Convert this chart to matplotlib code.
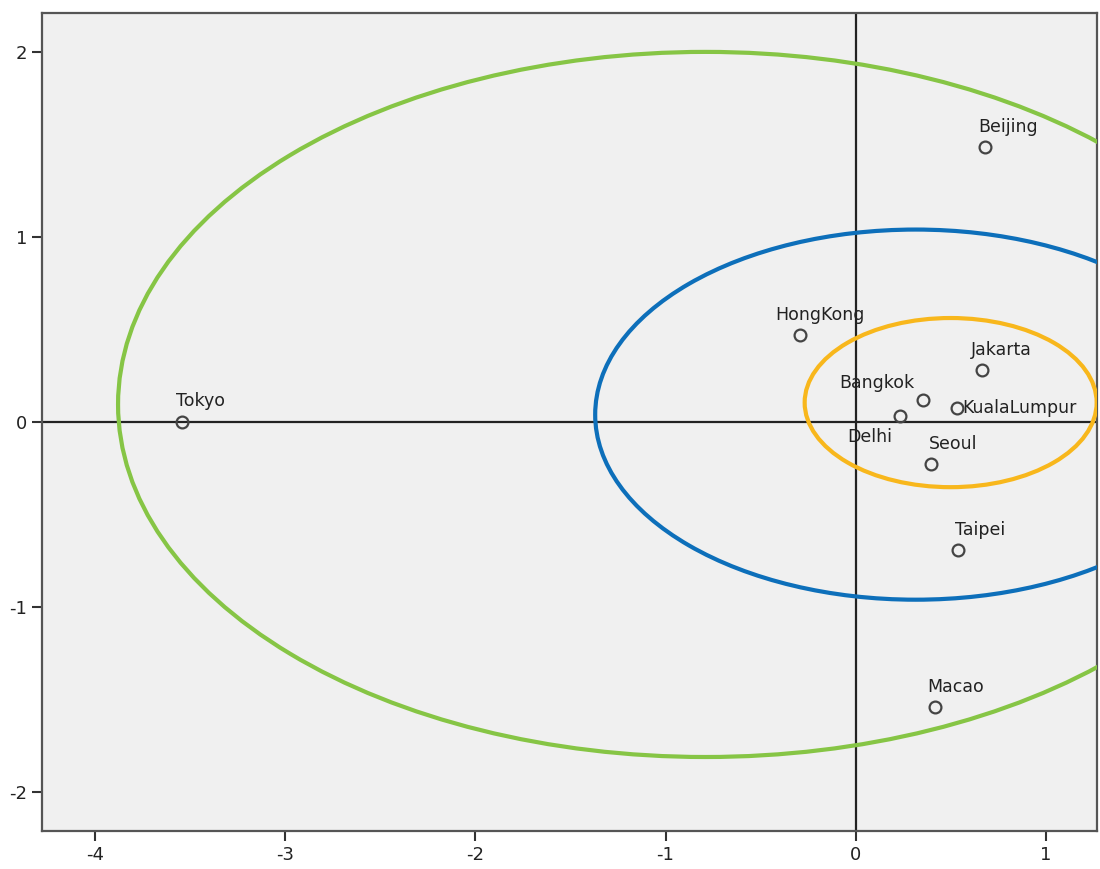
import matplotlib
matplotlib.use('Agg')

import matplotlib.pyplot as plt
from matplotlib.patches import Ellipse

# city coordinates
cities = ['Tokyo', 'HongKong', 'Beijing', 'Jakarta', 'Bangkok', 'Delhi',
          'KualaLumpur', 'Seoul', 'Taipei', 'Macao']
x_vals = [-3.545, -0.291, 0.683, 0.666, 0.354, 0.231, 0.533, 0.398, 0.536, 0.419]
y_vals = [0.002, 0.470, 1.485, 0.281, 0.119, 0.032, 0.074, -0.227, -0.692, -1.542]

# ellipses: centre x, centre y, width, height
ellipse_cx = [-0.79, 0.316, 0.50]
ellipse_cy = [0.095, 0.04, 0.105]
ellipse_w = [6.18, 3.372, 1.536]
ellipse_h = [3.81, 2.0, 0.914]
ellipse_colors = ['#86c545', '#0d6fba', '#f8b71c']

x_ticks = [-4, -3, -2, -1, 0, 1]
y_ticks = [-2, -1, 0, 1, 2]

# label placement (offset in points, horizontal / vertical alignment)
label_pos = {
    'Tokyo': ((-4, 11), 'left', 'baseline'),
    'HongKong': ((-18, 11), 'left', 'baseline'),
    'Beijing': ((-5, 11), 'left', 'baseline'),
    'Jakarta': ((-8, 11), 'left', 'baseline'),
    'Bangkok': ((-6, 9), 'right', 'baseline'),
    'Delhi': ((-5, -19), 'right', 'baseline'),
    'KualaLumpur': ((4, 0), 'left', 'center'),
    'Seoul': ((-2, 11), 'left', 'baseline'),
    'Taipei': ((-2, 11), 'left', 'baseline'),
    'Macao': ((-6, 11), 'left', 'baseline'),
}

plt.rcParams['font.family'] = ['DejaVu Sans']
plt.rcParams['axes.unicode_minus'] = False

fig = plt.figure(figsize=(11, 8.69), dpi=100)
ax = fig.add_axes([0.0382, 0.0437, 0.9591, 0.9413])
ax.set_facecolor('#f0f0f0')

ax.set_xlim(-4.28, 1.27)
ax.set_ylim(-2.21, 2.21)

ax.axhline(0, color='#222222', lw=1.6, zorder=2)
ax.axvline(0, color='#222222', lw=1.6, zorder=2)

for cx, cy, w, h, c in zip(ellipse_cx, ellipse_cy, ellipse_w, ellipse_h, ellipse_colors):
    e = Ellipse((cx, cy), w, h, fill=False, edgecolor=c, lw=3.0, zorder=3)
    ax.add_patch(e)

ax.plot(x_vals, y_vals, 'o', ms=8.5, mfc='none', mec='#444444', mew=1.6, zorder=4)

for name, x, y in zip(cities, x_vals, y_vals):
    off, ha, va = label_pos[name]
    ax.annotate(name, (x, y), xytext=off, textcoords='offset points',
                ha=ha, va=va, fontsize=12.5, color='#222222', zorder=5)

ax.set_xticks(x_ticks)
ax.set_yticks(y_ticks)
ax.tick_params(direction='out', length=7, width=1.5, colors='#333333',
               labelsize=13, labelcolor='#222222')
for s in ax.spines.values():
    s.set_color('#555555')
    s.set_linewidth(1.6)

fig.savefig('out.png', dpi=100)
